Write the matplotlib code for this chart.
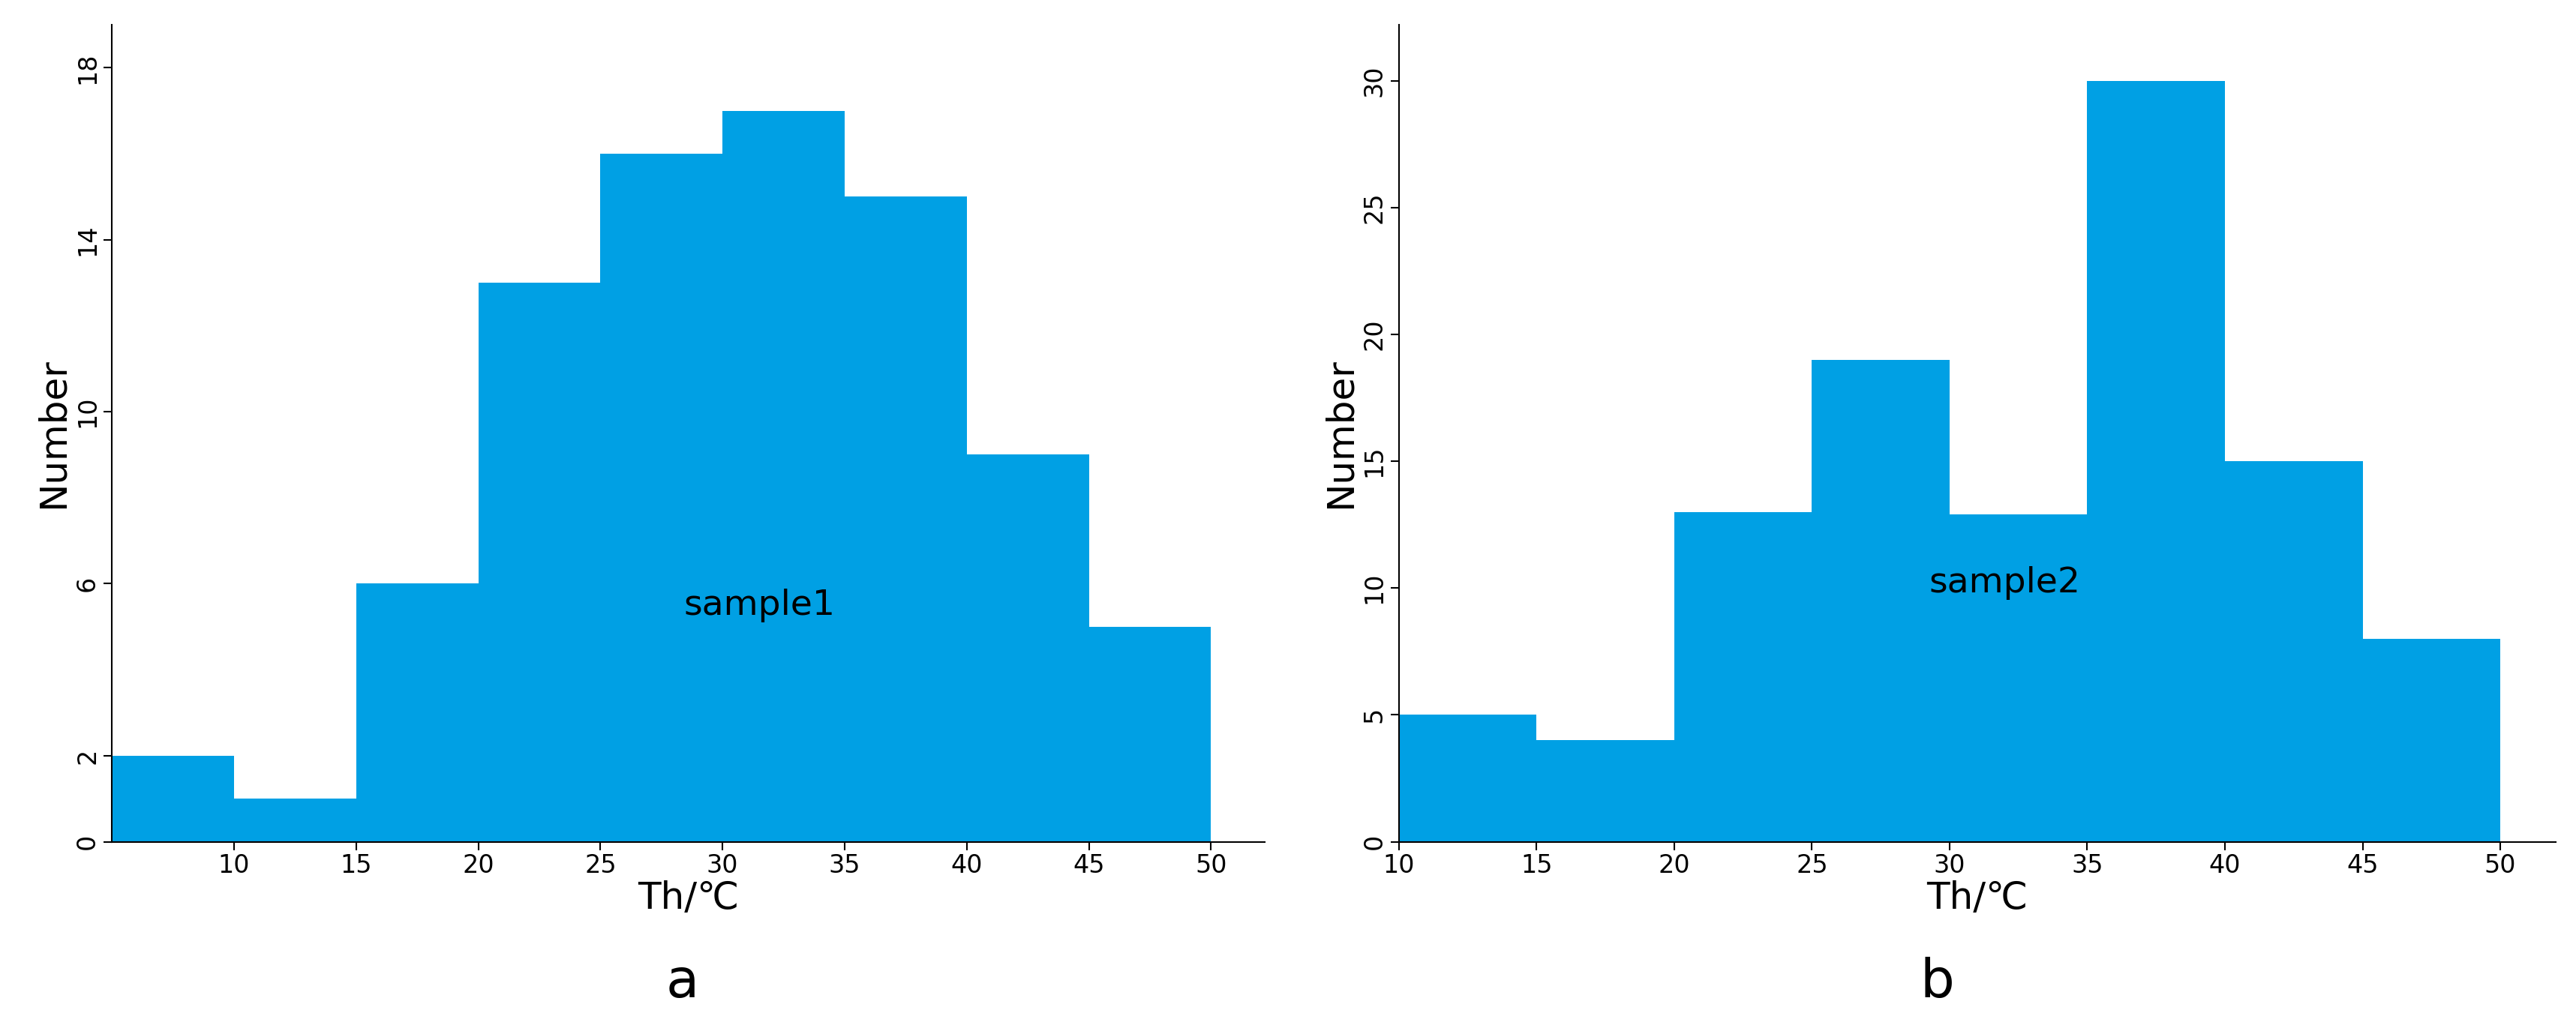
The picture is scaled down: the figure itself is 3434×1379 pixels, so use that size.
import matplotlib
matplotlib.use("Agg")
import matplotlib.pyplot as plt

plt.rcParams['font.family'] = ['DejaVu Sans', 'Noto Sans CJK SC']

# sample 1
edges_a = [5, 10, 15, 20, 25, 30, 35, 40, 45, 50]
counts_a = [2, 1, 6, 13, 16, 17, 15, 9, 5]
yticks_a = [0, 2, 6, 10, 14, 18]
xticks_a = [10, 15, 20, 25, 30, 35, 40, 45, 50]

# sample 2
edges_b = [10, 15, 20, 25, 30, 35, 40, 45, 50]
counts_b = [5, 4, 13, 19, 12.9, 30, 15, 8]
yticks_b = [0, 5, 10, 15, 20, 25, 30]
xticks_b = [10, 15, 20, 25, 30, 35, 40, 45, 50]

blue = '#00A0E4'
fig = plt.figure(figsize=(34.34, 13.79), dpi=100)
ax1 = fig.add_axes([0.0434, 0.186, 0.4476, 0.79])
ax2 = fig.add_axes([0.543, 0.186, 0.449, 0.79])

def draw(ax, edges, counts, xt, yt, xlim, ylim, name, txy, letter, lx):
    ax.stairs(counts, edges, fill=True, color=blue, linewidth=0)
    ax.set_xlim(*xlim)
    ax.set_ylim(*ylim)
    ax.set_xticks(xt)
    ax.set_yticks(yt)
    ax.tick_params(labelsize=24, length=8, width=1.5)
    for lab in ax.get_yticklabels():
        lab.set_rotation(90)
        lab.set_va('center')
    for s in ['top', 'right']:
        ax.spines[s].set_visible(False)
    for s in ['left', 'bottom']:
        ax.spines[s].set_linewidth(1.5)
    ax.set_ylabel('Number', fontsize=36, labelpad=4)
    ax.set_xlabel('Th/℃', fontsize=36, labelpad=2)
    ax.text(txy[0], txy[1], name, fontsize=34, ha='center', va='center')
    fig.text(lx, 0.05, letter, fontsize=52, ha='center', va='center')

draw(ax1, edges_a, counts_a, xticks_a, yticks_a, (5, 52.2), (0, 19), 'sample1',
     (31.5, 5.5), 'a', 0.265)
draw(ax2, edges_b, counts_b, xticks_b, yticks_b, (10, 52), (0, 32.2), 'sample2',
     (32, 10.2), 'b', 0.752)

fig.savefig('out.png', dpi=100)
